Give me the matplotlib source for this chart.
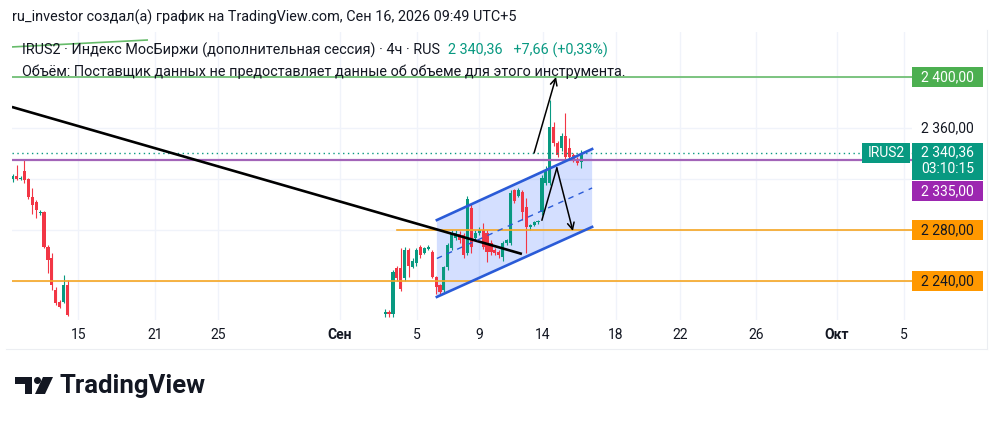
import matplotlib
matplotlib.use('Agg')
import matplotlib.pyplot as plt
from matplotlib.patches import Rectangle, Polygon, Circle

plt.rcParams['font.family'] = ['Roboto', 'DejaVu Sans']

# IRUS2, 4h bars. x = bar number, there is a hole in the data between the two pieces
left_start = 0
left_open = [2320, 2322, 2320, 2326, 2320, 2306, 2302, 2293, 2294, 2267, 2258, 2233, 2223.5, 2223.5, 2237]
left_high = [2324, 2331, 2322, 2336, 2321, 2313, 2303.5, 2295.7, 2295, 2268, 2262, 2235, 2225, 2244.7, 2240.8]
left_low = [2318, 2319, 2319, 2317, 2304, 2292.5, 2289.4, 2291.8, 2266, 2246.3, 2233, 2221.2, 2218.8, 2222.7, 2212.5]
left_close = [2322, 2320, 2321, 2319, 2306, 2299.6, 2295.7, 2294.1, 2266.7, 2256.5, 2237, 2222.7, 2219.6, 2237, 2213.3]

right_start = 95
right_open = [2214, 2216, 2214, 2250, 2250, 2242, 2264, 2251, 2254, 2267, 2262, 2265, 2263, 2243, 2237,
              2233, 2251, 2266, 2274, 2277, 2276, 2262, 2297, 2274, 2278, 2280, 2278, 2270, 2264, 2263,
              2259, 2270, 2270, 2311, 2307, 2310, 2298, 2282, 2284, 2286, 2294, 2317, 2317, 2361, 2348,
              2344, 2354, 2344, 2339, 2336, 2333]
right_high = [2218, 2217, 2249, 2252, 2266, 2267, 2266, 2258, 2266, 2268, 2267, 2268, 2264, 2244, 2238,
              2252, 2270, 2280, 2280, 2279, 2278, 2307, 2300, 2280, 2282, 2285.5, 2280, 2272, 2266, 2264,
              2271, 2273, 2311, 2312, 2313, 2311, 2305, 2285, 2287, 2288, 2323, 2330, 2382, 2365, 2350,
              2356, 2372, 2352, 2340, 2337, 2343]
right_low = [2212, 2212, 2212, 2240, 2232, 2240, 2243, 2250, 2252, 2258, 2261, 2264, 2242, 2230, 2229,
             2231, 2249, 2264, 2272, 2270, 2258, 2260, 2262, 2272, 2276, 2265, 2255, 2260, 2260, 2258,
             2256, 2268, 2268, 2301, 2306, 2288, 2262, 2280, 2283, 2285, 2292, 2315, 2315, 2346, 2337,
             2342, 2335, 2335, 2333, 2331, 2329]
right_close = [2216, 2214, 2247, 2242, 2234, 2264, 2252, 2256, 2264, 2260, 2266, 2267, 2243, 2235, 2231,
               2251, 2268, 2278, 2278, 2272, 2260, 2304, 2267, 2278, 2280, 2267, 2263, 2263, 2262, 2260,
               2270, 2272, 2309, 2303, 2311, 2294, 2282, 2284, 2286, 2287, 2321, 2327, 2361, 2348, 2339,
               2354, 2337, 2337, 2335, 2332.7, 2340.36]

tick_pos = [16.7, 36.3, 52.4, 83.5, 103.1, 119.0, 135.3, 153.9, 170.2, 189.6, 210.3, 227.4]
tick_labels = ['15', '21', '25', 'Сен', '5', '9', '14', '18', '22', '26', 'Окт', '5']
grid_prices = [2240, 2280, 2320, 2360, 2400]

last_price = 2340.36
level_green = 2400
level_purple = 2335
level_orange = [2280, 2240]
orange_2280_from = 98.1

# drawings (bar, price)
black_line = [(-0.2, 2376.5), (129.9, 2261.2)]
green_slant = [(-0.7, 2423.5), (34.3, 2429.0)]
chan_x = [108.2, 147.8]
chan_top = [2287.8, 2343.5]
chan_bot = [2227.5, 2282.4]
arrow_up = [(133.0, 2340.4), (138.6, 2400.0)]
arrow_v = [(135.0, 2287.8), (138.8, 2328.6), (142.9, 2279.2)]

GREEN = '#089981'
RED = '#f23645'
TXT = '#131722'
FS = 10.4


def candles(ax, start, o, h, l, c):
    for i in range(len(o)):
        x = start + i
        col = GREEN if c[i] >= o[i] else RED
        ax.vlines(x, l[i], h[i], color=col, lw=0.8, zorder=3)
        lo = min(o[i], c[i])
        hgt = max(abs(c[i] - o[i]), 0.8)
        ax.bar(x, hgt, bottom=lo, width=0.8, color=col, zorder=4, linewidth=0)


def price_box(ax, top, bottom, color, x0=1.0, x1=1.0789):
    r = Rectangle((x0, bottom), x1 - x0, top - bottom, transform=ax.get_yaxis_transform(),
                  facecolor=color, edgecolor='none', clip_on=False, zorder=10)
    ax.add_patch(r)


def main():
    fig = plt.figure(figsize=(10, 4.22), dpi=100)
    fig.patch.set_facecolor('white')
    ax = fig.add_axes([0.012, 1 - 320 / 422, 0.9, 288 / 422])
    ax.set_xlim(-0.18, 229.4)
    ax.set_ylim(2209.4, 2435.3)
    for s in ax.spines.values():
        s.set_visible(False)

    ax.set_yticks(grid_prices)
    ax.tick_params(axis='y', left=False, labelleft=False)
    ax.set_xticks(tick_pos)
    ax.set_xticklabels(tick_labels, fontsize=10, color=TXT)
    ax.tick_params(axis='x', length=0, pad=6)
    for lab in ax.get_xticklabels():
        if lab.get_text() in ('Сен', 'Окт'):
            lab.set_fontweight('bold')
    ax.grid(True, color='#f0f3fa', lw=1, zorder=0)
    ax.set_axisbelow(True)

    # channel fill under the candles
    poly = Polygon([(chan_x[0], chan_top[0]), (chan_x[1], chan_top[1]),
                    (chan_x[1], chan_bot[1]), (chan_x[0], chan_bot[0])],
                   closed=True, facecolor='#2962ff', alpha=0.2, edgecolor='none', zorder=1)
    ax.add_patch(poly)

    candles(ax, left_start, left_open, left_high, left_low, left_close)
    candles(ax, right_start, right_open, right_high, right_low, right_close)

    # horizontal levels
    ax.axhline(level_green, color='#66bb6a', lw=1.2, zorder=5)
    ax.axhline(level_purple, color='#a365b8', lw=1.6, zorder=5)
    ax.axhline(level_orange[1], color='#f5a623', lw=1.2, zorder=5)
    ax.plot([orange_2280_from, 230], [level_orange[0]] * 2, color='#f5a623', lw=1.2, zorder=5)
    ax.axhline(last_price, color=GREEN, lw=1, ls=(0, (1, 2.5)), zorder=5)

    ax.plot(*zip(*black_line), color='black', lw=1.9, zorder=6, solid_capstyle='butt')
    ax.plot(*zip(*green_slant), color='#66bb6a', lw=1.2, zorder=6)

    ax.plot(chan_x, chan_top, color='#2a5bd7', lw=1.9, zorder=6)
    ax.plot(chan_x, chan_bot, color='#2a5bd7', lw=1.9, zorder=6)
    ax.plot(chan_x, [(chan_top[0] + chan_bot[0]) / 2, (chan_top[1] + chan_bot[1]) / 2],
            color='#2a5bd7', lw=1.0, ls=(0, (4, 4)), zorder=6)

    ax.annotate('', xy=arrow_up[1], xytext=arrow_up[0],
                arrowprops=dict(arrowstyle='->', color='black', lw=1.1, shrinkA=0, shrinkB=0,
                                mutation_scale=12), zorder=7)
    ax.plot([arrow_v[0][0], arrow_v[1][0]], [arrow_v[0][1], arrow_v[1][1]], color='black', lw=1.1, zorder=7)
    ax.annotate('', xy=arrow_v[2], xytext=arrow_v[1],
                arrowprops=dict(arrowstyle='->', color='black', lw=1.1, shrinkA=0, shrinkB=0,
                                mutation_scale=12), zorder=7)

    # right price scale
    tr = ax.get_yaxis_transform()
    hh = 7.8
    xc = 1.0394
    price_box(ax, level_green + hh, level_green - hh, '#4caf50')
    ax.text(xc, level_green, '2 400,00', transform=tr, ha='center', va='center', fontsize=10,
            color='white', zorder=11, clip_on=False)
    ax.text(xc, 2360, '2 360,00', transform=tr, ha='center', va='center', fontsize=10,
            color=TXT, zorder=11, clip_on=False)
    t_top = last_price + hh
    t_bot = t_top - 29
    price_box(ax, t_top, t_bot, GREEN)
    ax.text(xc, last_price + 0.8, '2 340,36', transform=tr, ha='center', va='center', fontsize=10,
            color='white', zorder=11, clip_on=False)
    ax.text(xc, last_price - 12.6, '03:10:15', transform=tr, ha='center', va='center', fontsize=10,
            color='white', zorder=11, clip_on=False)
    price_box(ax, t_bot - 0.8, t_bot - 0.8 - 2 * hh, '#9c27b0')
    ax.text(xc, t_bot - 0.8 - hh, '2 335,00', transform=tr, ha='center', va='center', fontsize=10,
            color='white', zorder=11, clip_on=False)
    for lv in level_orange:
        price_box(ax, lv + hh, lv - hh, '#ff9800')
        ax.text(xc, lv, '{:,.2f}'.format(lv).replace(',', ' ').replace('.', ','), transform=tr,
                ha='center', va='center', fontsize=10, color=TXT, zorder=11, clip_on=False)
    # ticker tag left of the scale
    price_box(ax, last_price + hh, last_price - hh, GREEN, x0=0.9444, x1=0.9978)
    ax.text((0.9444 + 0.9978) / 2, last_price, 'IRUS2', transform=tr, ha='center', va='center',
            fontsize=10, color='white', zorder=11, clip_on=False)

    # overlay in pixel coords for header, frame and logo
    ov = fig.add_axes([0, 0, 1, 1], zorder=5)
    ov.set_xlim(0, 1000)
    ov.set_ylim(422, 0)
    ov.axis('off')
    ov.patch.set_alpha(0)

    ov.text(12, 17, 'ru_investor создал(а) график на TradingView.com, Сен 16, 2026 09:49 UTC+5',
            va='center', fontsize=FS, color=TXT)
    t1 = ov.text(22, 50, 'IRUS2 · Индекс МосБиржи (дополнительная сессия) · 4ч · RUS',
                 va='center', fontsize=FS, color=TXT)
    ov.text(22, 72, 'Объём: Поставщик данных не предоставляет данные об объеме для этого инструмента.',
            va='center', fontsize=FS, color=TXT)
    fig.canvas.draw()
    bb = t1.get_window_extent()
    ov.text(bb.x1 + 8, 50, '2 340,36   +7,66 (+0,33%)', va='center', fontsize=FS, color=GREEN)

    ov.plot([987, 987], [30, 349], color='#eceef2', lw=0.8)
    ov.plot([6, 987], [349, 349], color='#eceef2', lw=0.8)

    # TradingView logo
    ov.add_patch(Polygon([(15, 377), (32, 377), (32, 394), (25, 394), (25, 384), (15, 384)],
                         closed=True, facecolor='#131722', edgecolor='none'))
    ov.add_patch(Circle((37.5, 380.5), 3.5, facecolor='#131722', edgecolor='none'))
    ov.add_patch(Polygon([(43, 377), (53, 377), (45, 394), (35, 394)],
                         closed=True, facecolor='#131722', edgecolor='none'))
    ov.text(59, 386, 'TradingView', va='center', ha='left', fontsize=18.5, fontweight='bold', color='#131722')

    fig.savefig('out.png', dpi=100, facecolor='white')


main()
